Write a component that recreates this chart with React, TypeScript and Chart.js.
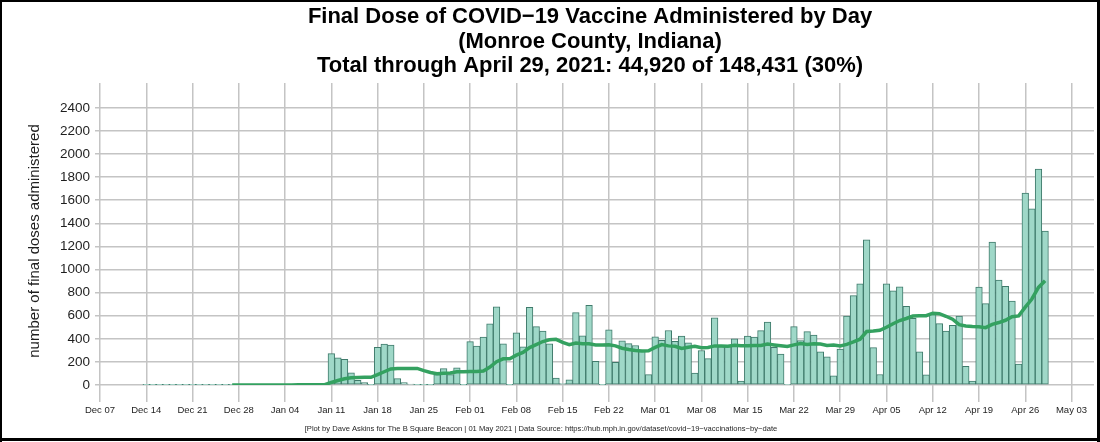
import { useEffect, useRef } from "react";
import Chart from "chart.js/auto";

const titleLines = [
  "Final Dose of COVID−19 Vaccine Administered by Day",
  "(Monroe County, Indiana)",
  "Total through April 29, 2021: 44,920 of 148,431 (30%)",
];
const yAxisTitle = "number of final doses administered";
const caption =
  "[Plot by Dave Askins for The B Square Beacon | 01 May 2021 | Data Source: https://hub.mph.in.gov/dataset/covid−19−vaccinations−by−date";

// x axis counts days from Dec 07, 2020; one tick per week
const xTickLabels = [
  "Dec 07", "Dec 14", "Dec 21", "Dec 28", "Jan 04", "Jan 11", "Jan 18", "Jan 25",
  "Feb 01", "Feb 08", "Feb 15", "Feb 22", "Mar 01", "Mar 08", "Mar 15", "Mar 22",
  "Mar 29", "Apr 05", "Apr 12", "Apr 19", "Apr 26", "May 03",
];
const yTicks = [0, 200, 400, 600, 800, 1000, 1200, 1400, 1600, 1800, 2000, 2200, 2400];

// first bar is Dec 14 (day 7)
const firstBarDay = 7;

// final doses per day, Dec 14 .. Apr 29
const doses = [
  1, 1, 1, 1, 1, 1, 1, // Dec 14
  1, 1, 1, 1, 1, 1, 1, // Dec 21
  1, 1, 1, 1, 1, 1, 1, // Dec 28
  1, 1, 2, 8, 12, 4, 2, // Jan 04
  272, 235, 222, 105, 40, 20, 3, // Jan 11
  327, 355, 345, 55, 22, 8, 3, // Jan 18
  3, 3, 90, 142, 90, 148, 3, // Jan 25
  375, 338, 414, 530, 676, 357, 3, // Feb 01
  452, 330, 672, 505, 466, 357, 59, // Feb 08
  13, 45, 627, 426, 690, 206, 3, // Feb 15
  478, 196, 383, 358, 342, 295, 90, // Feb 22
  417, 386, 472, 378, 424, 365, 104, // Mar 01
  299, 229, 582, 333, 333, 399, 35, // Mar 08
  423, 414, 471, 544, 326, 268, 5, // Mar 15
  506, 384, 462, 433, 288, 243, 79, // Mar 22
  311, 597, 774, 877, 1258, 324, 91, // Mar 29
  876, 815, 849, 682, 578, 287, 88, // Apr 05
  610, 532, 467, 516, 597, 162, 35, // Apr 12
  848, 704, 1238, 909, 854, 727, 182, // Apr 19
  1662, 1526, 1869, 1332, // Apr 26
];

// 14-day average line, same days as doses
const avg14 = [
  null, null, null, null, null, null, null, // Dec 14
  null, null, null, null, null, null, 1, // Dec 21
  1, 1, 1, 1, 1, 1, 1, // Dec 28
  1, 1, 1.1, 1.6, 2.4, 2.6, 2.6, // Jan 04
  22, 38.7, 54.5, 61.9, 64.7, 66.1, 66.2, // Jan 11
  89.5, 114.8, 139.3, 142.6, 143.4, 143.6, 143.7, // Jan 18
  124.5, 107.9, 98.5, 101.1, 104.7, 113.9, 113.9, // Jan 25
  117.3, 116.1, 121, 154.9, 201.6, 226.6, 226.6, // Feb 01
  258.6, 282, 323.6, 349.5, 376.4, 391.3, 395.3, // Feb 08
  369.4, 348.5, 363.7, 356.3, 357.3, 346.5, 346.5, // Feb 15
  348.4, 338.8, 318.1, 307.6, 298.8, 294.4, 296.6, // Feb 22
  325.4, 349.8, 338.7, 335.3, 316.3, 327.6, 334.9, // Mar 01
  322.1, 324.4, 338.6, 336.9, 336.2, 343.6, 339.7, // Mar 08
  340.1, 342.1, 342.1, 353.9, 346.9, 340, 332.9, // Mar 15
  347.7, 358.8, 350.2, 357.4, 354.1, 343, 346.1, // Mar 22
  338.1, 351.2, 372.9, 396.6, 463.2, 467.2, 473.4, // Mar 29
  499.8, 530.6, 558.2, 576, 596.7, 599.9, 600.5, // Apr 05
  621.9, 617.2, 595.3, 569.5, 522.3, 510.7, 506.7, // Apr 12
  504.7, 496.8, 524.6, 540.8, 560.5, 591.9, 598.6, // Apr 19
  673.8, 744.8, 844.9, 903.2, // Apr 26
];

const FONT = "'Liberation Sans', Arial, Helvetica, sans-serif";
const GRID = "#c4c4c4";
const TEXT = "#1e1e1e";

const decorations = {
  id: "decorations",
  afterDraw(chart: Chart) {
    const { ctx } = chart;
    ctx.save();
    ctx.fillStyle = "#000";
    ctx.textAlign = "center";
    ctx.textBaseline = "alphabetic";
    ctx.font = `bold 22px ${FONT}`;
    titleLines.forEach((t, i) => ctx.fillText(t, 590, 23 + i * 24.5));

    ctx.fillStyle = TEXT;
    ctx.font = `15px ${FONT}`;
    ctx.save();
    ctx.translate(35, 241);
    ctx.rotate(-Math.PI / 2);
    ctx.textBaseline = "middle";
    ctx.fillText(yAxisTitle, 0, 0);
    ctx.restore();

    ctx.font = `7.6px ${FONT}`;
    ctx.textBaseline = "middle";
    ctx.fillText(caption, 541, 429);

    ctx.fillStyle = "#000";
    ctx.fillRect(0, 0, 1100, 2);
    ctx.fillRect(0, 0, 2, 442);
    ctx.fillRect(1097, 0, 3, 442);
    ctx.fillRect(0, 438, 1100, 3);
    ctx.restore();
  },
};

export default function App() {
  const ref = useRef<HTMLCanvasElement>(null);
  const chart = useRef<Chart | null>(null);

  useEffect(() => {
    if (!ref.current) return;
    chart.current?.destroy();

    chart.current = new Chart(ref.current, {
      type: "bar",
      data: {
        datasets: [
          {
            type: "line",
            data: avg14.map((v, i) => ({ x: firstBarDay + i, y: v })),
            borderColor: "#34a160",
            borderWidth: 3.5,
            pointRadius: 0,
            tension: 0,
            fill: false,
            order: 0,
          } as any,
          {
            type: "bar",
            data: doses.map((v, i) => ({ x: firstBarDay + i, y: v })),
            backgroundColor: "#9fd8c8",
            borderColor: "#3f7a6b",
            borderWidth: 1,
            borderSkipped: false,
            barPercentage: 1,
            categoryPercentage: 1,
            order: 1,
          },
        ],
      },
      options: {
        animation: false,
        responsive: true,
        maintainAspectRatio: false,
        events: [],
        layout: { padding: { top: 83, right: 6, left: 0, bottom: 0 } },
        plugins: {
          legend: { display: false },
          title: { display: false },
          tooltip: { enabled: false },
        },
        scales: {
          x: {
            type: "linear",
            min: 0,
            max: 150.4,
            offset: false,
            border: { display: false },
            grid: { color: GRID, lineWidth: 1.5, tickLength: 17, offset: false },
            afterBuildTicks: (s: any) => {
              s.ticks = xTickLabels.map((_, i) => ({ value: i * 7 }));
            },
            afterFit: (s: any) => {
              s.height = 57;
            },
            ticks: {
              autoSkip: false,
              maxRotation: 0,
              padding: 3,
              color: TEXT,
              font: { family: FONT, size: 9.5 },
              callback: (_v: any, i: number) => xTickLabels[i],
            },
          },
          y: {
            min: 0,
            max: 2615,
            border: { display: false },
            grid: { color: GRID, lineWidth: 1.5, tickLength: 5 },
            afterBuildTicks: (s: any) => {
              s.ticks = yTicks.map((v) => ({ value: v }));
            },
            afterFit: (s: any) => {
              s.width = 100;
            },
            ticks: {
              padding: 5,
              color: TEXT,
              font: { family: FONT, size: 13.5 },
              callback: (v: any) => String(v),
            },
          },
        },
      },
      plugins: [decorations],
    });

    return () => chart.current?.destroy();
  }, []);

  return (
    <div
      style={{
        position: "absolute",
        left: 0,
        top: 0,
        width: "1100px",
        height: "442px",
        background: "#fff",
      }}
    >
      <canvas ref={ref} />
    </div>
  );
}
